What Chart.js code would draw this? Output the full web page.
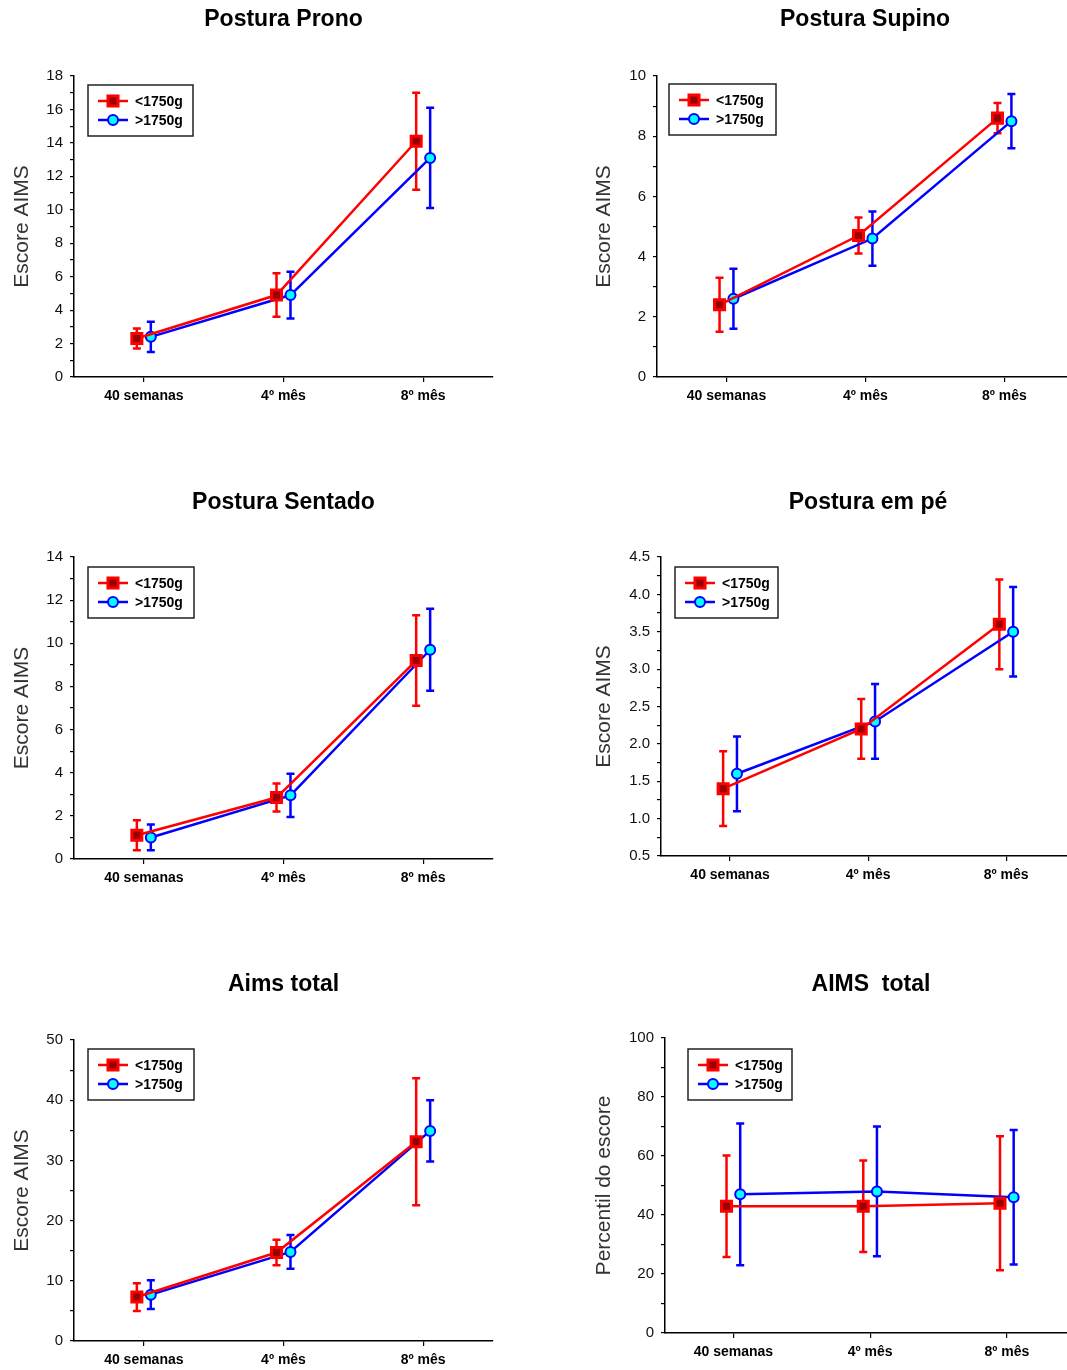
<!DOCTYPE html>
<html>
<head>
<meta charset="utf-8">
<script src="https://cdn.jsdelivr.net/npm/chart.js@4.4.1/dist/chart.umd.min.js"></script>
<style>
  body { margin: 0; background: #fff; width: 1067px; height: 1370px; position: relative; overflow: hidden; }
  .painel { position: absolute; }
</style>
</head>
<body>
<div class="painel" style="left:0;top:0"><canvas id="c1" width="533" height="430"></canvas></div>
<div class="painel" style="left:582px;top:0"><canvas id="c2" width="505" height="430"></canvas></div>
<div class="painel" style="left:0;top:482px"><canvas id="c3" width="533" height="430"></canvas></div>
<div class="painel" style="left:582px;top:482px"><canvas id="c4" width="505" height="430"></canvas></div>
<div class="painel" style="left:0;top:964px"><canvas id="c5" width="533" height="406"></canvas></div>
<div class="painel" style="left:582px;top:964px"><canvas id="c6" width="505" height="406"></canvas></div>
<script>
const categorias = ["40 semanas", "4º mês", "8º mês"];
const grupos = ["<1750g", ">1750g"];

// medias e desvios (barras de erro = media +/- dp)
const pronoMenor = [2.3, 4.9, 14.1];
const pronoMenorDp = [0.6, 1.3, 2.9];
const pronoMaior = [2.4, 4.9, 13.1];
const pronoMaiorDp = [0.9, 1.4, 3.0];

const supinoMenor = [2.4, 4.7, 8.6];
const supinoMenorDp = [0.9, 0.6, 0.5];
const supinoMaior = [2.6, 4.6, 8.5];
const supinoMaiorDp = [1.0, 0.9, 0.9];

const sentadoMenor = [1.1, 2.85, 9.2];
const sentadoMenorDp = [0.7, 0.65, 2.1];
const sentadoMaior = [1.0, 2.95, 9.7];
const sentadoMaiorDp = [0.6, 1.0, 1.9];

const emPeMenor = [1.4, 2.2, 3.6];
const emPeMenorDp = [0.5, 0.4, 0.6];
const emPeMaior = [1.6, 2.3, 3.5];
const emPeMaiorDp = [0.5, 0.5, 0.6];

const totalMenor = [7.3, 14.7, 33.1];
const totalMenorDp = [2.3, 2.1, 10.55];
const totalMaior = [7.7, 14.8, 34.9];
const totalMaiorDp = [2.4, 2.8, 5.1];

const percentilMenor = [43, 43, 44];
const percentilMenorDp = [17.2, 15.5, 22.7];
const percentilMaior = [47, 48, 46];
const percentilMaiorDp = [24, 22, 22.8];

const fonte = "'Liberation Sans', Arial, Helvetica, sans-serif";

const barrasErro = {
  id: 'barrasErro',
  beforeDatasetsDraw(chart) {
    const { ctx, scales: { x, y } } = chart;
    chart.data.datasets.forEach(ds => {
      ctx.save();
      ctx.strokeStyle = ds.borderColor;
      ctx.lineWidth = 2.5;
      ds.data.forEach((p, j) => {
        const px = x.getPixelForValue(p.x);
        const yAlto = y.getPixelForValue(p.y + ds.desvios[j]);
        const yBaixo = y.getPixelForValue(p.y - ds.desvios[j]);
        ctx.beginPath();
        ctx.moveTo(px, yAlto); ctx.lineTo(px, yBaixo);
        ctx.moveTo(px - 4, yAlto); ctx.lineTo(px + 4, yAlto);
        ctx.moveTo(px - 4, yBaixo); ctx.lineTo(px + 4, yBaixo);
        ctx.stroke();
      });
      ctx.restore();
    });
  }
};

function marcador(ctx, ds, x, y) {
  ctx.fillStyle = ds.pointBackgroundColor;
  ctx.strokeStyle = ds.pointBorderColor;
  ctx.lineWidth = ds.pointBorderWidth;
  if (Chart.helpers && typeof Chart.helpers.drawPoint === 'function') {
    Chart.helpers.drawPoint(ctx, { pointStyle: ds.pointStyle, radius: ds.pointRadius, borderWidth: ds.pointBorderWidth, rotation: 0 }, x, y);
    return;
  }
  ctx.beginPath();
  if (ds.pointStyle === 'rect') {
    const s = ds.pointRadius / Math.SQRT2;
    ctx.rect(x - s, y - s, 2 * s, 2 * s);
  } else {
    ctx.arc(x, y, ds.pointRadius, 0, Math.PI * 2);
  }
  ctx.fill(); ctx.stroke();
}

const legendaCaixa = {
  id: 'legendaCaixa',
  afterDatasetsDraw(chart, args, opts) {
    const { ctx, chartArea } = chart;
    const bx = chartArea.left + opts.dx, by = chartArea.top + opts.dy;
    const larg = opts.largura, alt = 51;
    ctx.save();
    ctx.fillStyle = '#fff';
    ctx.fillRect(bx, by, larg, alt);
    ctx.strokeStyle = '#222';
    ctx.lineWidth = 1.5;
    ctx.strokeRect(bx, by, larg, alt);
    chart.data.datasets.forEach((ds, i) => {
      const yy = by + 16 + i * 19;
      ctx.strokeStyle = ds.borderColor;
      ctx.lineWidth = 2.5;
      ctx.beginPath();
      ctx.moveTo(bx + 10, yy); ctx.lineTo(bx + 40, yy);
      ctx.stroke();
      marcador(ctx, ds, bx + 25, yy);
      ctx.fillStyle = '#000';
      ctx.font = 'bold 14px ' + fonte;
      ctx.textBaseline = 'middle';
      ctx.textAlign = 'left';
      ctx.fillText(ds.label, bx + 47, yy + 1);
    });
    ctx.restore();
  }
};

const tituloPainel = {
  id: 'tituloPainel',
  afterDraw(chart, args, opts) {
    const { ctx, chartArea } = chart;
    ctx.save();
    ctx.font = 'bold 23px ' + fonte;
    ctx.fillStyle = '#000';
    ctx.textAlign = 'center';
    ctx.textBaseline = 'middle';
    ctx.fillText(opts.texto, (chartArea.left + chartArea.right) / 2 + (opts.dx || 0), opts.y);
    ctx.restore();
  }
};

function serie(rotulo, medias, desvios, desloc, cor, fundo, estilo, raio, borda) {
  return {
    label: rotulo,
    data: medias.map((v, i) => ({ x: i + desloc, y: v })),
    desvios: desvios,
    borderColor: cor,
    borderWidth: 2.5,
    pointStyle: estilo,
    pointRadius: raio,
    pointHoverRadius: raio,
    pointBackgroundColor: fundo,
    pointBorderColor: cor,
    pointBorderWidth: borda,
    tension: 0,
    fill: false
  };
}

function criarPainel(p) {
  const canvas = document.getElementById(p.id);
  const principal = p.principal;
  new Chart(canvas.getContext('2d'), {
    type: 'line',
    data: {
      datasets: [
        serie(grupos[0], p.menor, p.menorDp, -0.05, '#ff0000', '#990000', 'rect', 7.1, 3),
        serie(grupos[1], p.maior, p.maiorDp, 0.05, '#0000ff', '#00ffff', 'circle', 5, 2)
      ]
    },
    options: {
      responsive: false,
      animation: false,
      events: [],
      layout: { padding: { top: p.topo, right: canvas.width - p.direita, left: 0, bottom: 0 } },
      plugins: {
        legend: { display: false },
        tooltip: { enabled: false },
        title: { display: false },
        tituloPainel: { texto: p.titulo, y: p.tituloY, dx: p.tituloDx || 0 },
        legendaCaixa: { dx: p.legDx, dy: p.legDy, largura: p.legLarg }
      },
      scales: {
        x: {
          type: 'linear',
          min: -0.5,
          max: p.xMax,
          afterBuildTicks: s => { s.ticks = categorias.map((c, i) => ({ value: i })); },
          afterFit: s => { s.height = canvas.height - p.base; },
          ticks: {
            autoSkip: false,
            maxRotation: 0,
            padding: 6,
            color: '#000',
            font: { family: fonte, size: 14, weight: 'bold' },
            callback: v => categorias[v]
          },
          grid: { display: true, drawOnChartArea: false, drawTicks: true, tickLength: 5, color: '#000', lineWidth: 1.2 },
          border: { display: true, color: '#000', width: 1.5 }
        },
        y: {
          min: p.yMin,
          max: p.yMax,
          afterFit: s => { s.width = p.largY; },
          ticks: {
            stepSize: p.passo,
            autoSkip: false,
            padding: 7,
            color: '#111',
            font: { family: fonte, size: 15 },
            callback: v => {
              const r = v / principal;
              return Math.abs(r - Math.round(r)) < 1e-6 ? v.toFixed(p.casas) : '';
            }
          },
          grid: { display: true, drawOnChartArea: false, drawTicks: true, tickLength: 4, color: '#000', lineWidth: 1.2 },
          border: { display: true, color: '#000', width: 1.5 },
          title: {
            display: true,
            text: p.tituloY_eixo,
            color: '#333',
            font: { family: fonte, size: 21 },
            padding: { top: 10, bottom: 0 }
          }
        }
      }
    },
    plugins: [barrasErro, legendaCaixa, tituloPainel]
  });
}

const paineis = [
  { id: 'c1', titulo: 'Postura Prono', tituloY: 20, tituloY_eixo: 'Escore AIMS',
    menor: pronoMenor, menorDp: pronoMenorDp, maior: pronoMaior, maiorDp: pronoMaiorDp,
    yMin: 0, yMax: 18, passo: 1, principal: 2, casas: 0,
    topo: 76, base: 377, largY: 74, direita: 493, xMax: 2.5, legDx: 14, legDy: 9, legLarg: 105 },
  { id: 'c2', titulo: 'Postura Supino', tituloY: 20, tituloDx: 3, tituloY_eixo: 'Escore AIMS',
    menor: supinoMenor, menorDp: supinoMenorDp, maior: supinoMaior, maiorDp: supinoMaiorDp,
    yMin: 0, yMax: 10, passo: 1, principal: 2, casas: 0,
    topo: 76, base: 377, largY: 75, direita: 485, xMax: 2.45, legDx: 12, legDy: 8, legLarg: 107 },
  { id: 'c3', titulo: 'Postura Sentado', tituloY: 21, tituloY_eixo: 'Escore AIMS',
    menor: sentadoMenor, menorDp: sentadoMenorDp, maior: sentadoMaior, maiorDp: sentadoMaiorDp,
    yMin: 0, yMax: 14, passo: 1, principal: 2, casas: 0,
    topo: 75, base: 377, largY: 74, direita: 493, xMax: 2.5, legDx: 14, legDy: 10, legLarg: 106 },
  { id: 'c4', titulo: 'Postura em pé', tituloY: 21, tituloDx: 4, tituloY_eixo: 'Escore AIMS',
    menor: emPeMenor, menorDp: emPeMenorDp, maior: emPeMaior, maiorDp: emPeMaiorDp,
    yMin: 0.5, yMax: 4.5, passo: 0.25, principal: 0.5, casas: 1,
    topo: 75, base: 374, largY: 79, direita: 485, xMax: 2.44, legDx: 14, legDy: 10, legLarg: 103 },
  { id: 'c5', titulo: 'Aims total', tituloY: 21, tituloY_eixo: 'Escore AIMS',
    menor: totalMenor, menorDp: totalMenorDp, maior: totalMaior, maiorDp: totalMaiorDp,
    yMin: 0, yMax: 50, passo: 5, principal: 10, casas: 0,
    topo: 76, base: 377, largY: 74, direita: 493, xMax: 2.5, legDx: 14, legDy: 9, legLarg: 106 },
  { id: 'c6', titulo: 'AIMS  total', tituloY: 21, tituloDx: 5, tituloY_eixo: 'Percentil do escore',
    menor: percentilMenor, menorDp: percentilMenorDp, maior: percentilMaior, maiorDp: percentilMaiorDp,
    yMin: 0, yMax: 100, passo: 10, principal: 20, casas: 0,
    topo: 74, base: 369, largY: 83, direita: 485, xMax: 2.44, legDx: 23, legDy: 11, legLarg: 104 }
];

paineis.forEach(criarPainel);
</script>
</body>
</html>
